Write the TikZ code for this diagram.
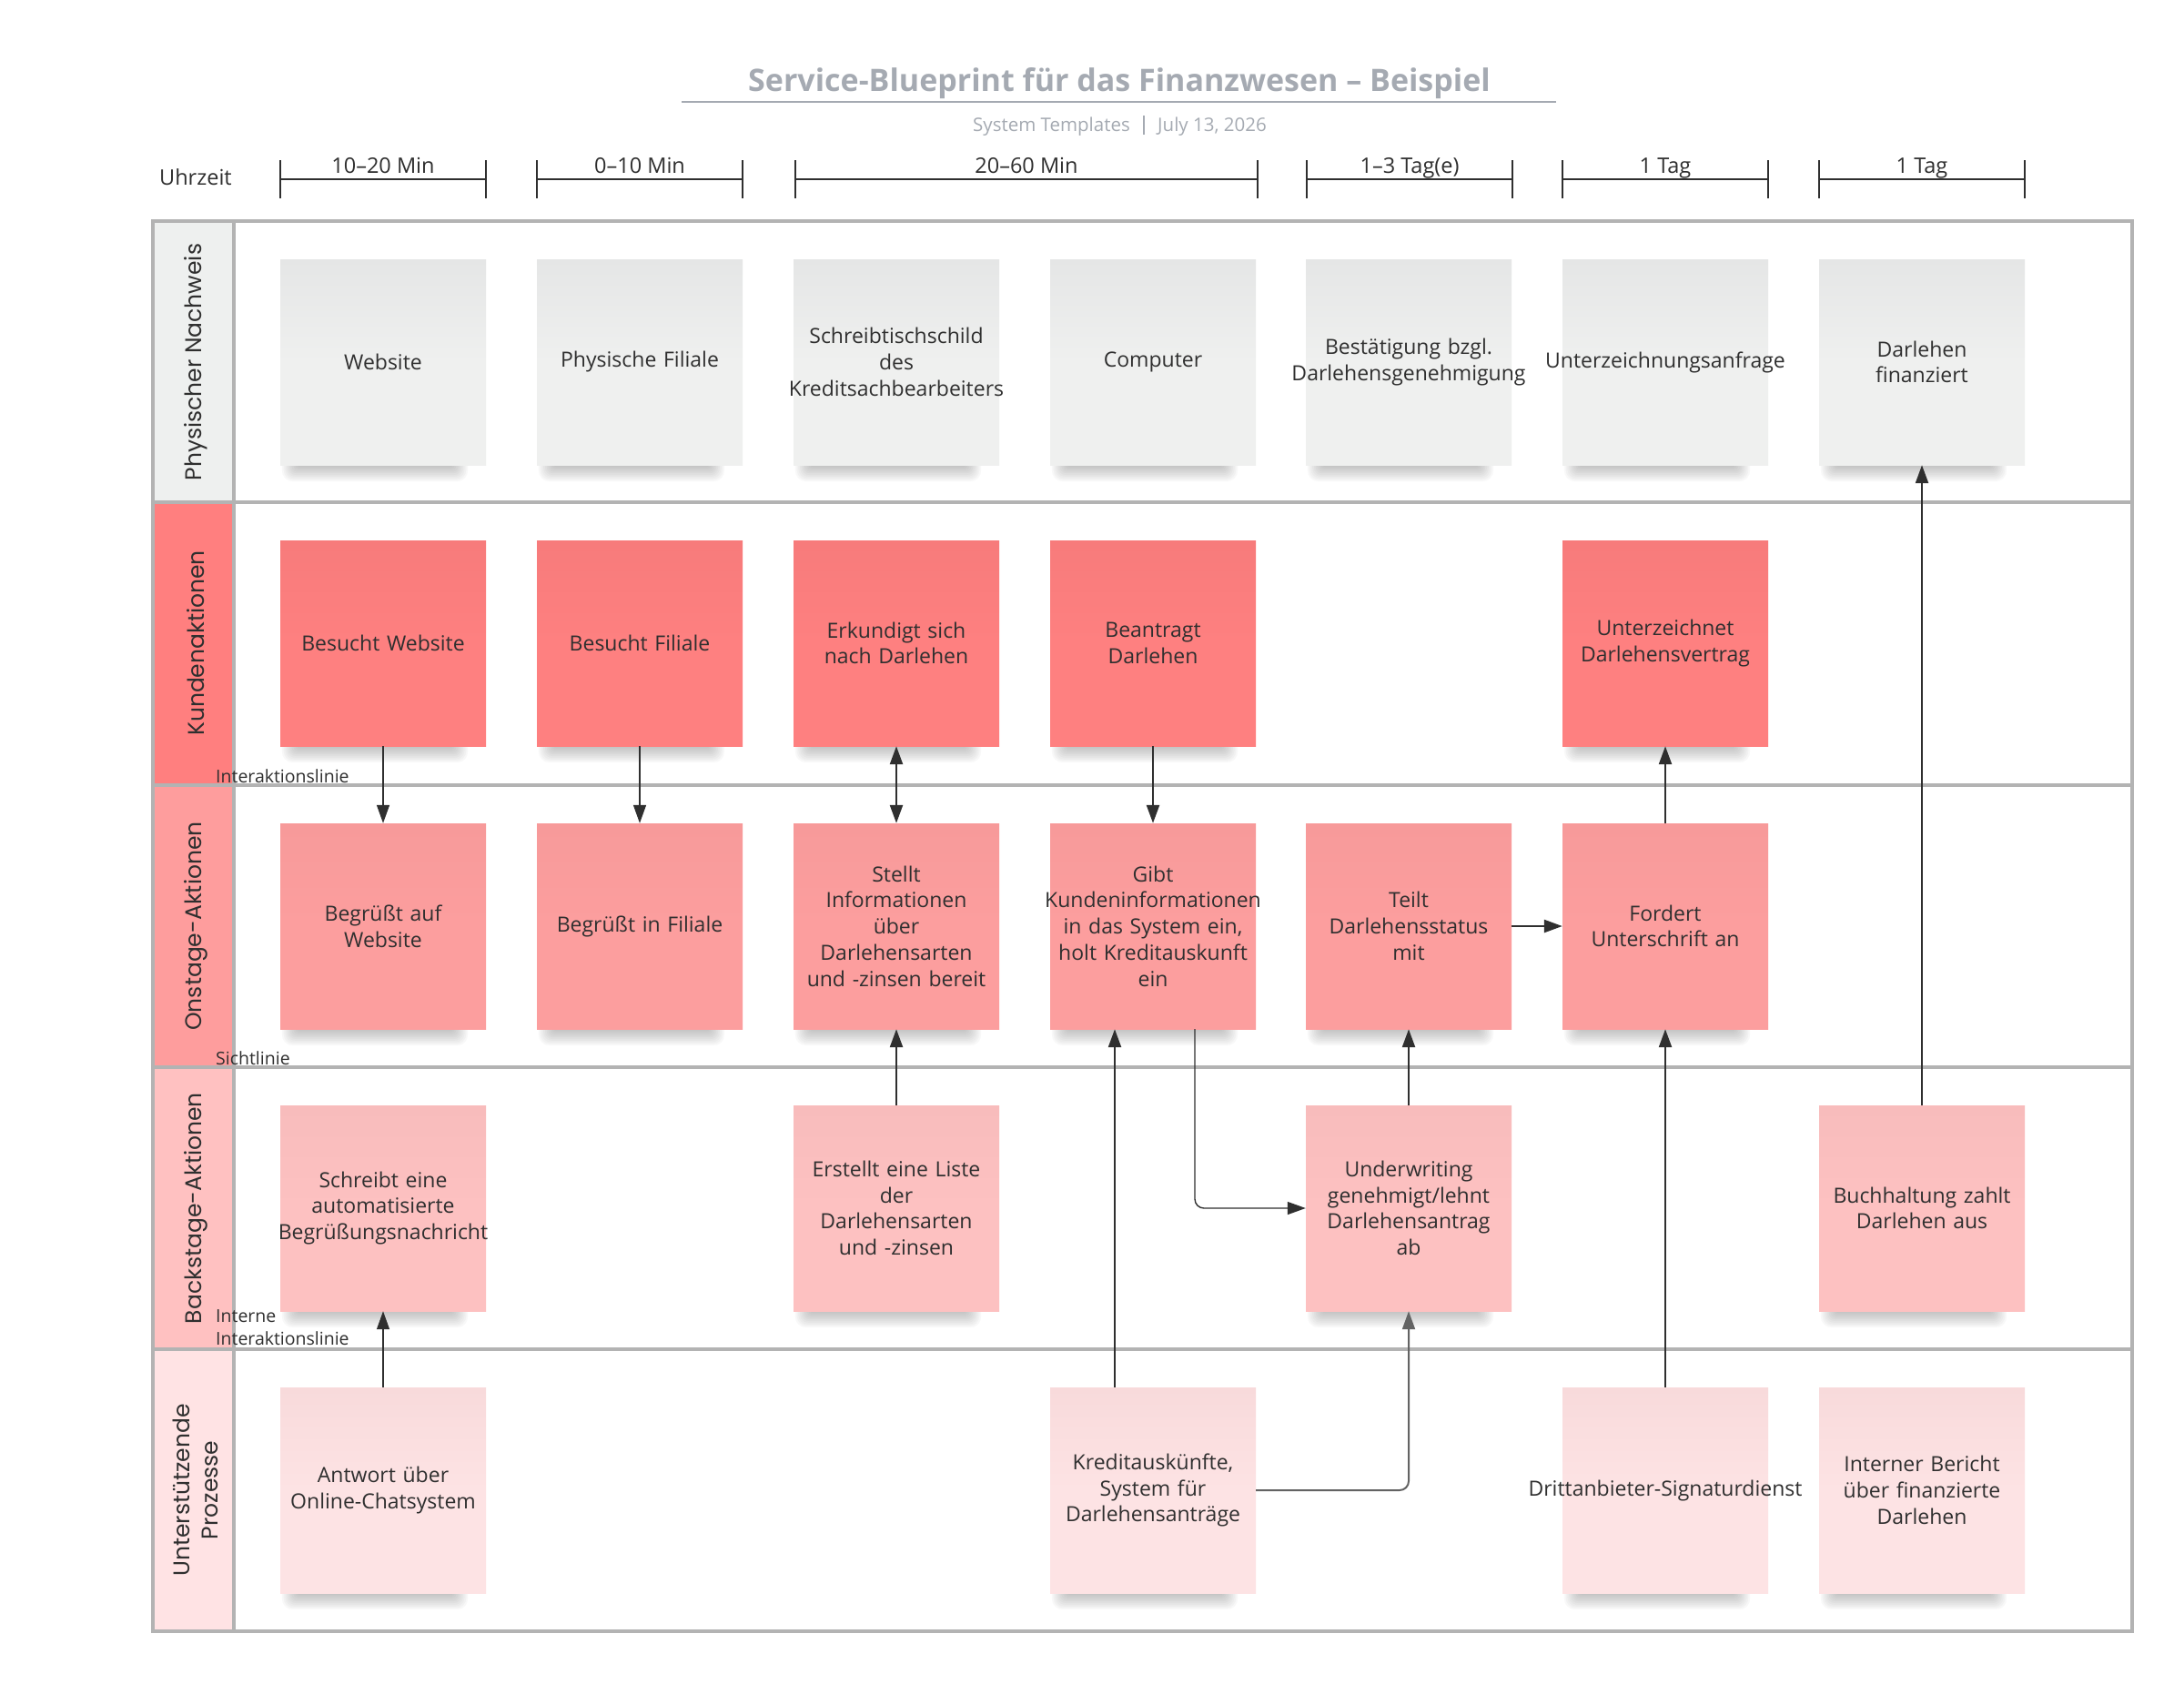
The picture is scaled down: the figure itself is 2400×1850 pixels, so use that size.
\documentclass[tikz,border=0pt]{standalone}
\usepackage{fontspec}
\setmainfont{Open Sans}
\newfontfamily\lanefont{Poppins}
\usetikzlibrary{arrows.meta}
\definecolor{txt}{HTML}{2F2F2F}
\definecolor{framec}{HTML}{B3B3B3}
\definecolor{titlec}{HTML}{A5AAB2}
\definecolor{physT}{HTML}{E5E6E6}
\definecolor{physB}{HTML}{EFF0EF}
\definecolor{kunT}{HTML}{F77B7B}
\definecolor{kunB}{HTML}{FE8080}
\definecolor{onT}{HTML}{F79A9A}
\definecolor{onB}{HTML}{FC9E9E}
\definecolor{backT}{HTML}{F8BCBC}
\definecolor{backB}{HTML}{FDC1C1}
\definecolor{supT}{HTML}{F8DADB}
\definecolor{supB}{HTML}{FDE3E4}
\definecolor{lphys}{HTML}{EEF0EF}
\definecolor{lkun}{HTML}{FF7F7F}
\definecolor{lon}{HTML}{FE9D9D}
\definecolor{lback}{HTML}{FFC1C1}
\definecolor{lsup}{HTML}{FFE3E4}
\definecolor{shadowc}{HTML}{5A5A5A}
\newcommand{\cardfont}{\fontsize{23}{28.7}\selectfont}
\newcommand{\bpcard}[5]{%
  \foreach \k in {0,1,...,9}{%
    \fill[shadowc, fill opacity=0.04, rounded corners={(3+\k)*1pt}]
      ({#2-95-1.8*\k},{#3+83-1.8*\k}) rectangle ({#2+77+1.8*\k},{#3+115+1.8*\k});
  }%
  \node[card,#4] (#1) at (#2,#3) {#5};%
}
\begin{document}
\begin{tikzpicture}[x=1pt, y=-1pt,
  card/.style={rectangle, minimum width=226pt, minimum height=226pt, inner ysep=0pt,
    text width=360pt, inner xsep=-67pt, align=center, font=\cardfont, text=txt},
  phys/.style={top color=physT, bottom color=physB, middle color=physB},
  kun/.style={top color=kunT, bottom color=kunB, middle color=kunB},
  onst/.style={top color=onT, bottom color=onB, middle color=onB},
  back/.style={top color=backT, bottom color=backB, middle color=backB},
  supp/.style={top color=supT, bottom color=supB, middle color=supB},
  conn/.style={draw=txt, line width=2.4pt, -{Triangle[length=20pt, width=14pt]}},
  thinc/.style={line width=1.4pt},
  lanelab/.style={font=\lanefont\fontsize{25}{31}\selectfont, text=txt, rotate=90, align=center},
  linelab/.style={font=\fontsize{19.5}{25}\selectfont, text=txt, anchor=base west, inner sep=0pt, align=left},
  tl/.style={font=\fontsize{23.5}{28}\selectfont, text=txt, anchor=base, inner sep=0pt},
  bracketline/.style={draw=txt, line width=2.2pt},
  framel/.style={draw=framec, line width=3.5pt}
]
\useasboundingbox (0,0) rectangle (2400,1850);
\fill[white] (0,0) rectangle (2400,1850);

% ---------- title ----------
\node[font=\fontsize{34}{40}\selectfont\bfseries, text=titlec, anchor=base, inner sep=0pt] (title) at (1230,100) {Service-Blueprint für das Finanzwesen – Beispiel};
\draw[titlec, line width=2pt] (749,112) -- (1710,112);
\node[font=\fontsize{20.5}{24}\selectfont, text=titlec, anchor=base east, inner sep=0pt] (sub1) at (1242,144) {System Templates};
\node[font=\fontsize{20.5}{24}\selectfont, text=titlec, anchor=base west, inner sep=0pt] (sub2) at (1272,144) {July 13, 2026};
\draw[titlec, line width=1.2pt] (1257,127) -- (1257,148);

% ---------- time line ----------
\node[font=\fontsize{23.5}{28}\selectfont, text=txt, anchor=base west, inner sep=0pt] (uhr) at (175,203) {Uhrzeit};
\foreach \a/\b/\t/\n in {308/534/10–20 Min/t1, 590/816/0–10 Min/t2, 874/1382/20–60 Min/t3, 1436/1662/1–3 Tag(e)/t4, 1717/1943/1 Tag/t5, 1999/2225/1 Tag/t6}{
  \draw[bracketline] (\a,176) -- (\a,218) (\a,197) -- (\b,197) (\b,176) -- (\b,218);
  \node[tl] (\n) at ({(\a+\b)/2},190) {\t};
}

% ---------- lanes ----------
\fill[lphys] (168,243) rectangle (257,552);
\fill[lkun]  (168,552) rectangle (257,863);
\fill[lon]   (168,863) rectangle (257,1173);
\fill[lback] (168,1173) rectangle (257,1483);
\fill[lsup]  (168,1483) rectangle (257,1793);
\draw[framel] (168,243) rectangle (2343,1793);
\draw[framel] (257,243) -- (257,1793);
\foreach \yy in {552,863,1173,1483}{\draw[framel] (168,\yy) -- (2343,\yy);}

\node[lanelab] (lane1) at (215,398) {Physischer Nachweis};
\node[lanelab] (lane2) at (215,707) {Kundenaktionen};
\node[lanelab] (lane3) at (215,1018) {Onstage-Aktionen};
\node[lanelab] (lane4) at (215,1328) {Backstage-Aktionen};
\node[lanelab] (lane5) at (215,1638) {Unterstützende\\Prozesse};

% ---------- cards ----------
% row 1
\bpcard{web}{421}{398}{phys}{Website}
\bpcard{fil}{703}{398}{phys}{Physische Filiale}
\bpcard{sch}{985}{398}{phys}{Schreibtischschild\\des\\Kreditsachbearbeiters}
\bpcard{com}{1267}{398}{phys}{Computer}
\bpcard{bes}{1548}{398}{phys}{Bestätigung bzgl.\\Darlehensgenehmigung}
\bpcard{unt}{1830}{398}{phys}{Unterzeichnungsanfrage}
\bpcard{dfi}{2112}{398}{phys}{Darlehen\\finanziert}
% row 2
\bpcard{bw}{421}{707}{kun}{Besucht Website}
\bpcard{bf}{703}{707}{kun}{Besucht Filiale}
\bpcard{ek}{985}{707}{kun}{Erkundigt sich\\nach Darlehen}
\bpcard{bd}{1267}{707}{kun}{Beantragt\\Darlehen}
\bpcard{ud}{1830}{707}{kun}{Unterzeichnet\\Darlehensvertrag}
% row 3
\bpcard{gw}{421}{1018}{onst}{Begrüßt auf\\Website}
\bpcard{gf}{703}{1018}{onst}{Begrüßt in Filiale}
\bpcard{si}{985}{1018}{onst}{Stellt\\Informationen\\über\\Darlehensarten\\und -zinsen bereit}
\bpcard{gk}{1267}{1018}{onst}{Gibt\\Kundeninformationen\\in das System ein,\\holt Kreditauskunft\\ein}
\bpcard{td}{1548}{1018}{onst}{Teilt\\Darlehensstatus\\mit}
\bpcard{fu}{1830}{1018}{onst}{Fordert\\Unterschrift an}
% row 4
\bpcard{sb}{421}{1328}{back}{Schreibt eine\\automatisierte\\Begrüßungsnachricht}
\bpcard{el}{985}{1328}{back}{Erstellt eine Liste\\der\\Darlehensarten\\und -zinsen}
\bpcard{uw}{1548}{1328}{back}{Underwriting\\genehmigt/lehnt\\Darlehensantrag\\ab}
\bpcard{bh}{2112}{1328}{back}{Buchhaltung zahlt\\Darlehen aus}
% row 5
\bpcard{an}{421}{1638}{supp}{Antwort über\\Online-Chatsystem}
\bpcard{kr}{1267}{1638}{supp}{Kreditauskünfte,\\System für\\Darlehensanträge}
\bpcard{dr}{1830}{1638}{supp}{Drittanbieter-Signaturdienst}
\bpcard{ib}{2112}{1638}{supp}{Interner Bericht\\über finanzierte\\Darlehen}

% ---------- line labels ----------
\node[linelab] (il) at (237,860) {Interaktionslinie};
\node[linelab] (sl) at (237,1170) {Sichtlinie};
\node[linelab] (iil) at (237,1478) {Interne\\Interaktionslinie};

% ---------- connectors ----------
\draw[conn, thinc] (bw.south) -- (gw.north);
\draw[conn, thinc] (bf.south) -- (gf.north);
\draw[conn, {Triangle[length=20pt, width=14pt]}-{Triangle[length=20pt, width=14pt]}] (ek.south) -- (si.north);
\draw[conn] (bd.south) -- (gk.north);
\draw[conn] (fu.north) -- (ud.south);
\draw[conn] (td.east) -- (fu.west);
\draw[conn] (el.north) -- (si.south);
\draw[conn, thinc, rounded corners=10pt] ([xshift=46pt]gk.south) |- (uw.west);
\draw[conn] ([xshift=-42pt]kr.north) -- ([xshift=-42pt]gk.south);
\draw[conn, draw=txt!75, line width=2pt, rounded corners=10pt] (kr.east) -| (uw.south);
\draw[conn] (uw.north) -- (td.south);
\draw[conn] (dr.north) -- (fu.south);
\draw[conn] (bh.north) -- (dfi.south);
\draw[conn, thinc] (an.north) -- (sb.south);
\end{tikzpicture}
\end{document}
